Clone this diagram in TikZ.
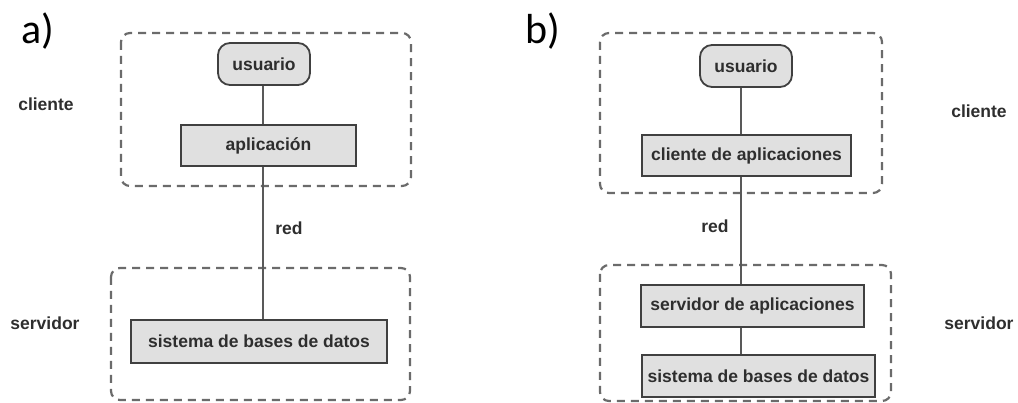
\documentclass[tikz,border=0pt]{standalone}
\usepackage{fontspec}
\setmainfont{Liberation Sans}
\newfontfamily\letterfont{Carlito}
\begin{document}
\begin{tikzpicture}[x=1pt,y=-1pt,
  txt/.style={font=\fontsize{17.5}{20}\selectfont\bfseries, text=black!82},
  box/.style={txt, draw=black!75, line width=1.8pt, fill=black!12, inner sep=0pt},
  userbox/.style={box, rounded corners=12pt},
  zone/.style={draw=black!58, line width=2.2pt, dash pattern=on 8pt off 6pt, rounded corners=9pt},
  link/.style={draw=black!65, line width=1.8pt},
  plabel/.style={font=\letterfont\fontsize{42}{46}\selectfont, text=black, inner sep=0pt}]
\useasboundingbox (0,0) rectangle (1018,403);
% panel a
\node[plabel] (la) at (38,31) {a)};
\draw[zone] (121,33) rectangle (411,186);
\draw[zone] (111,268) rectangle (410,400);
\node[userbox, minimum width=92pt, minimum height=42pt] (ua) at (264,64) {usuario};
\node[box, minimum width=175pt, minimum height=41pt] (apa) at (268.5,145.5) {aplicación};
\node[box, minimum width=256pt, minimum height=43pt] (sda) at (259,341.5) {sistema de bases de datos};
\coordinate (lxa) at (263,0);
\draw[link] (lxa |- ua.south) -- (lxa |- apa.north);
\draw[link] (lxa |- apa.south) -- (lxa |- sda.north);
\node[txt] (cla) at (46,104) {cliente};
\node[txt] (sva) at (45,323) {servidor};
\node[txt] (reda) at (289,228) {red};
% panel b
\node[plabel] (lb) at (543,31) {b)};
\draw[zone] (600,33) rectangle (882,193);
\draw[zone] (600,265) rectangle (891,401);
\node[userbox, minimum width=92pt, minimum height=42pt] (ub) at (746,66) {usuario};
\node[box, minimum width=209pt, minimum height=41pt] (cab) at (746.5,155.5) {cliente de aplicaciones};
\node[box, minimum width=223pt, minimum height=42pt] (sab) at (752.5,306) {servidor de aplicaciones};
\node[box, minimum width=233pt, minimum height=42pt] (sdb) at (758.5,376) {sistema de bases de datos};
\coordinate (lxb) at (741,0);
\draw[link] (lxb |- ub.south) -- (lxb |- cab.north);
\draw[link] (lxb |- cab.south) -- (lxb |- sab.north);
\draw[link] (lxb |- sab.south) -- (lxb |- sdb.north);
\node[txt] (clb) at (979,111) {cliente};
\node[txt] (svb) at (979,323) {servidor};
\node[txt] (redb) at (715,226) {red};
\end{tikzpicture}
\end{document}
